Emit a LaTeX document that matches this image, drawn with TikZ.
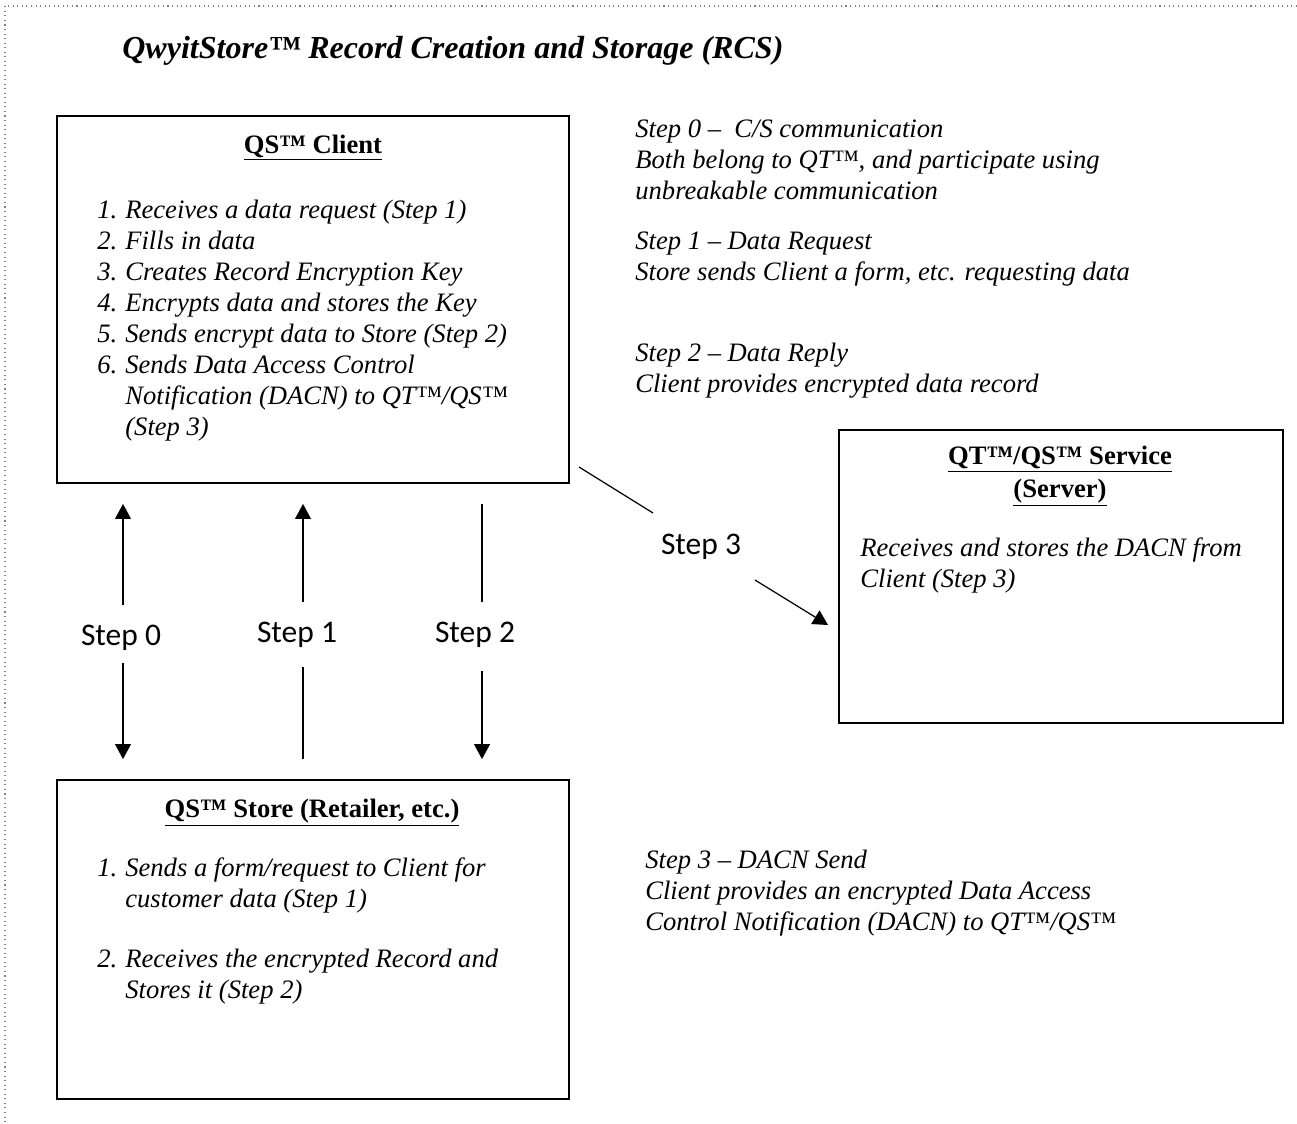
\documentclass[tikz,border=0pt]{standalone}
\usepackage{fontspec}
\setmainfont{Liberation Serif}
\newfontfamily\stepfont{Carlito}
\usetikzlibrary{arrows.meta,fit}

\newcommand{\itnum}[1]{\makebox[16pt][l]{#1}}
\newcommand{\itcont}{\hspace*{16pt}}

\begin{document}
\begin{tikzpicture}[x=0.5714pt,y=-0.5714pt,
  box/.style={draw,line width=1.1pt,inner sep=0pt},
  title/.style={font=\fontsize{18.3}{21}\selectfont\bfseries\itshape,anchor=base west,inner sep=0pt},
  head/.style={font=\fontsize{15.2}{18.3}\selectfont\bfseries,align=center,anchor=base,inner sep=0pt},
  body/.style={font=\fontsize{15.2}{17.7}\selectfont\itshape,align=left,anchor=base west,inner sep=0pt},
  steplab/.style={font=\stepfont\fontsize{18}{21}\selectfont,anchor=base,inner sep=0pt},
  arr/.style={line width=0.7pt,-{Triangle[length=8.5pt,width=9pt]}},
  ln/.style={line width=0.7pt}]
\useasboundingbox (0,0) rectangle (1297,1123);
% page frame
\draw[gray,dotted,line width=0.6pt] (1297,6) -- (5,6) -- (5,1123);

\node[title] (title) at (122,58) {QwyitStore™ Record Creation and Storage (RCS)};

% client (multi-line nodes sit on their last baseline)
\node[box,fit={(57,116) (569,483)}] (client) {};
\node[head] (clienthead) at (313,153) {\underline{QS™ Client}};
\node[body] (clientlist) at (97,435) {\itnum{1.}Receives a data request (Step 1)\\
  \itnum{2.}Fills in data\\
  \itnum{3.}Creates Record Encryption Key\\
  \itnum{4.}Encrypts data and stores the Key\\
  \itnum{5.}Sends encrypt data to Store (Step 2)\\
  \itnum{6.}Sends Data Access Control\\
  \itcont Notification (DACN) to QT™/QS™\\
  \itcont (Step 3)};

% store
\node[box,fit={(57,780) (569,1099)}] (store) {};
\node[head] (storehead) at (312,817) {\underline{QS™ Store (Retailer, etc.)}};
\node[body] (storeone) at (97,907) {\itnum{1.}Sends a form/request to Client for\\
  \itcont customer data (Step 1)};
\node[body] (storetwo) at (97,998) {\itnum{2.}Receives the encrypted Record and\\
  \itcont Stores it (Step 2)};

% server
\node[box,fit={(839,430) (1283,723)}] (server) {};
\node[head] (serverhead) at (1060,497) {\underline{QT™/QS™ Service}\\\underline{(Server)}};
\node[body] (servertext) at (860,587) {Receives and stores the DACN from\\Client (Step 3)};

% notes
\node[body] (note0) at (635,199) {Step 0 –\ \ C/S communication\\
  Both belong to QT™, and participate using\\
  unbreakable communication};
\node[body] (note1) at (635,280) {Step 1 – Data Request\\
  Store sends Client a form, etc. requesting data};
\node[body] (note2) at (635,392) {Step 2 – Data Reply\\
  Client provides encrypted data record};
\node[body] (note3) at (645,930) {Step 3 – DACN Send\\
  Client provides an encrypted Data Access\\
  Control Notification (DACN) to QT™/QS™};

% steps
\node[steplab] (lab0) at (121,645) {Step 0};
\node[steplab] (lab1) at (297,642) {Step 1};
\node[steplab] (lab2) at (475,642) {Step 2};
\node[steplab] (lab3) at (701,554) {Step 3};
\coordinate (s0a) at (123,605);
\coordinate (s0b) at (123,663);
\coordinate (s1a) at (303,602);
\coordinate (s1b) at (303,667);
\coordinate (s2a) at (482,602);
\coordinate (s2b) at (482,671);
\coordinate (s3a) at (579,467);
\coordinate (s3b) at (653,513);
\coordinate (s3c) at (755,580);
\coordinate (s3d) at (828,625);
\draw[arr,shorten >=11.4pt] (s0a) -- (s0a |- client.south);
\draw[arr,shorten >=11.4pt] (s0b) -- (s0b |- store.north);
\draw[arr,shorten >=11.4pt] (s1a) -- (s1a |- client.south);
\draw[ln,shorten >=11.4pt] (s1b) -- (s1b |- store.north);
\draw[ln,shorten <=11.4pt] (s2a |- client.south) -- (s2a);
\draw[arr,shorten >=11.4pt] (s2b) -- (s2b |- store.north);
\draw[ln] (s3a) -- (s3b);
\draw[arr] (s3c) -- (s3d);
\end{tikzpicture}
\end{document}
